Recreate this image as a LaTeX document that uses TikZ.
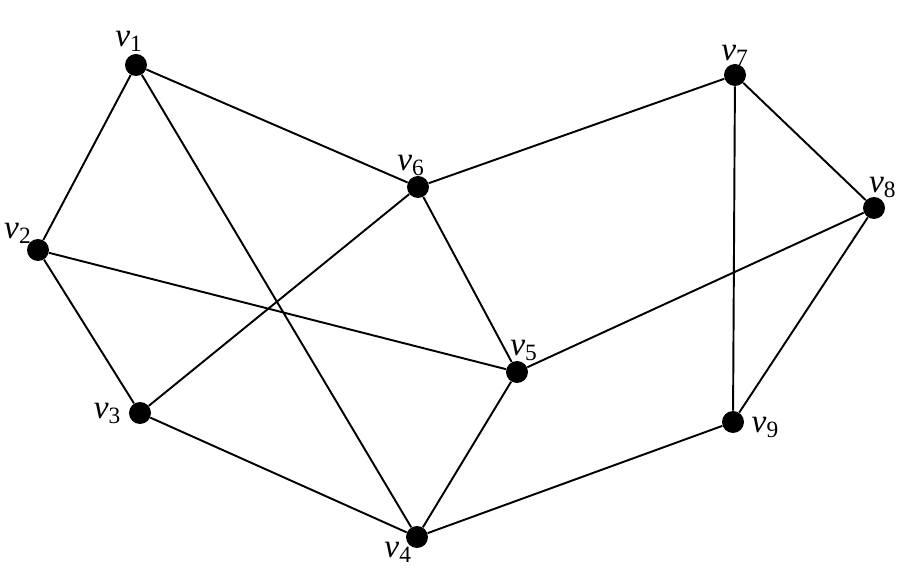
\documentclass[tikz,border=0pt]{standalone}
\usepackage{fontspec}
\setmainfont{Liberation Serif}
\usetikzlibrary{positioning}
\newcommand{\vlab}[1]{\textit{v}\textsubscript{#1}}
\tikzset{
    dot/.style={circle,fill=black,inner sep=0pt,minimum size=0.44cm},
    edge/.style={line width=1.1pt},
    every label/.style={font=\fontsize{19}{22}\selectfont,inner sep=1pt}
}
\begin{document}
\begin{tikzpicture}
		\useasboundingbox (0,0) rectangle (18,11.54);

		\node[dot,label={[xshift=-4pt,label distance=0pt]above:\vlab{1}}] (v1) at (2.72,10.24) {};
		\node[dot,label={[label distance=-3pt]above left:\vlab{2}}] (v2) at (0.76,6.54) {};
		\node[dot,label={[label distance=3pt]left:\vlab{3}}] (v3) at (2.80,3.28) {};
		\node[dot,label={[label distance=-4pt]below left:\vlab{4}}] (v4) at (8.34,0.80) {};
		\node[dot,label={[xshift=4pt,label distance=-1pt]above:\vlab{5}}] (v5) at (10.34,4.10) {};
		\node[dot,label={[xshift=-4pt,label distance=-1pt]above:\vlab{6}}] (v6) at (8.36,7.80) {};
		\node[dot,label={[label distance=-2pt]above:\vlab{7}}] (v7) at (14.70,10.04) {};
		\node[dot,label={[xshift=5pt,label distance=-2pt]above:\vlab{8}}] (v8) at (17.48,7.38) {};
		\node[dot,label={[label distance=3pt,yshift=-3pt]right:\vlab{9}}] (v9) at (14.66,3.10) {};

		\draw[edge] (v1) -- (v2);
		\draw[edge] (v1) -- (v6);
		\draw[edge] (v1) -- (v4);
		\draw[edge] (v2) -- (v3);
		\draw[edge] (v2) -- (v5);
		\draw[edge] (v3) -- (v6);
		\draw[edge] (v3) -- (v4);
		\draw[edge] (v4) -- (v5);
		\draw[edge] (v4) -- (v9);
		\draw[edge] (v5) -- (v6);
		\draw[edge] (v5) -- (v8);
		\draw[edge] (v6) -- (v7);
		\draw[edge] (v7) -- (v8);
		\draw[edge] (v7) -- (v9);
		\draw[edge] (v8) -- (v9);
\end{tikzpicture}
\end{document}
